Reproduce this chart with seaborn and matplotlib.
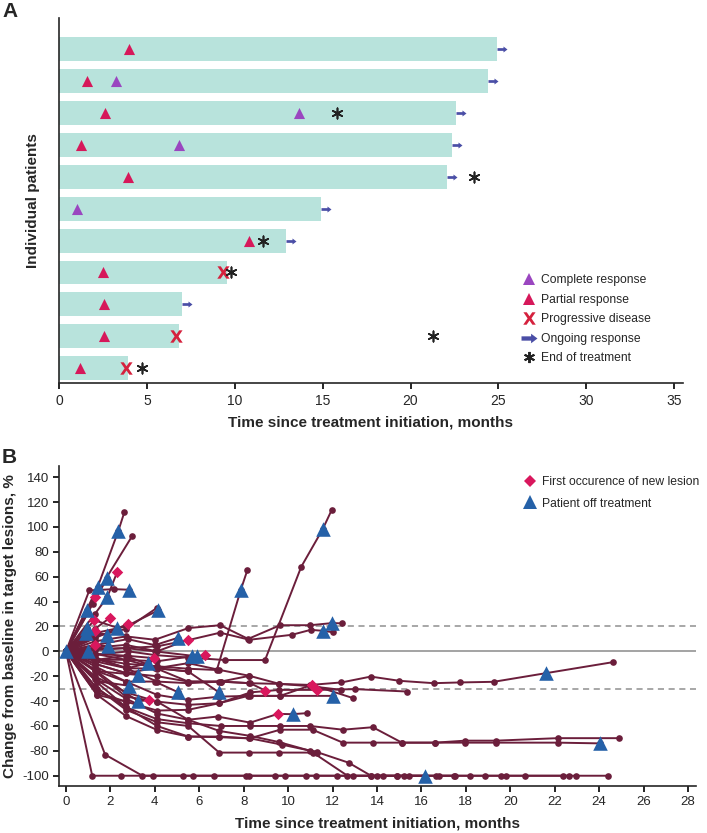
import pandas as pd
import matplotlib
matplotlib.use('Agg')
import matplotlib.pyplot as plt
from matplotlib.lines import Line2D
from matplotlib.path import Path
import seaborn as sns

# Panel A - swimmer plot, one row per patient, top row first
rows = list(range(11))
months_on_study = [24.9, 24.4, 22.6, 22.35, 22.1, 14.9, 12.9, 9.55, 7.0, 6.85, 3.95]
ongoing = [True, True, True, True, True, True, True, False, True, False, False]
partial_resp = [4.0, 1.6, 2.6, 1.25, 3.9, None, 10.8, 2.5, 2.55, 2.55, 1.2]
complete_resp = [None, 3.25, 13.65, 6.8, None, 1.0, None, None, None, None, None]
progression = [None, None, None, None, None, None, None, 9.35, None, 6.65, 3.8]
end_tx_row = [2, 4, 6, 7, 9, 10]
end_tx_month = [15.8, 23.6, 11.6, 9.8, 21.25, 4.7]

# Panel B - spider plot, one list per patient
visit_month = [
    [0, 1.0, 2.36, 2.63],
    [0, 1.3, 2.99],
    [0, 1.2, 1.86],
    [0, 1.05, 2.18, 2.84],
    [0, 1.43],
    [0, 1.3, 1.86, 2.31],
    [0, 0.93],
    [0, 1.4, 2.7, 4.16],
    [0, 1.3, 2.7, 4.1],
    [0, 1.3, 1.98],
    [0, 1.28, 2.3],
    [0, 1.3, 2.78],
    [0, 0.93],
    [0, 0.89],
    [0, 1.3, 1.83],
    [0, 1.3, 1.9],
    [0, 1.0],
    [0],
    [0, 1.3, 2.7, 4.0, 5.51, 6.94, 8.2, 9.64, 11.0, 11.97, 12.42],
    [0, 1.3, 2.78, 4.0, 5.06],
    [0, 1.3, 2.7, 4.1, 5.5],
    [0, 1.3, 2.7, 4.1, 5.5, 6.94, 8.26, 10.17, 11.02, 11.55, 12.01],
    [0, 1.3, 2.7, 4.1, 5.5, 6.79, 7.87, 8.17],
    [0, 1.3, 2.8, 4.0, 5.5, 7.16, 8.96, 10.59, 11.55, 11.97],
    [0, 1.3, 2.78, 3.98],
    [0, 1.4, 2.7, 4.1, 5.66],
    [0, 1.3, 2.7, 4.0, 5.89, 6.26],
    [0, 1.3, 2.78, 3.7],
    [0, 1.4, 3.26],
    [0, 1.4, 2.84],
    [0, 1.3, 2.7, 3.26, 3.74],
    [0, 1.4, 2.7, 4.0, 5.06],
    [0, 1.3, 2.7, 4.0, 5.5, 6.89],
    [0, 1.3, 2.7, 4.1, 5.5, 6.97, 8.26, 9.61, 11.0, 12.4, 13.72, 15.01, 16.55, 17.75, 19.25, 21.62, 24.62],
    [0, 1.3, 2.7, 4.1, 5.5, 6.97, 8.29, 8.96],
    [0, 1.3, 2.7, 4.1, 5.5, 6.9, 8.3, 9.64, 11.07, 12.94],
    [0, 1.3, 2.7, 4.1, 5.5, 6.9, 8.3, 9.6, 11.32, 13.02, 15.35],
    [0, 1.4, 2.7, 4.1, 5.5, 6.9, 8.2, 9.64, 12.04],
    [0, 1.3, 2.7, 4.1, 5.5, 6.82, 8.29, 9.54, 10.21, 10.84],
    [0, 1.4, 2.7, 4.1, 5.5, 6.97, 8.3, 9.64, 10.99, 12.46, 13.81, 15.12, 16.62, 17.97, 19.37, 22.13, 24.88],
    [0, 1.4, 2.7, 4.1, 5.5, 6.9, 8.26, 9.64, 11.1, 12.46, 13.81, 15.12, 16.62, 17.97, 19.37, 22.13, 24.05],
    [0, 1.3, 2.7, 4.1, 5.5, 6.9, 8.26, 9.6, 11.11, 11.3],
    [0, 1.4, 2.7, 4.1, 5.5, 6.9, 8.3, 9.71, 11.3, 12.72, 13.73, 14.9, 16.17],
    [0, 1.18, 2.49, 3.9, 5.26, 6.68, 8.1, 9.43, 10.81, 12.22, 13.99, 15.23, 16.65, 17.48, 18.87, 19.82, 22.36, 22.96, 24.38],
    [0, 1.76, 3.44, 5.7, 8.26, 9.86, 11.26, 12.91, 14.29, 15.46, 16.8, 18.2, 19.58, 20.65, 22.63],
    [0, 1.3, 2.7, 4.1, 5.5, 6.9, 8.3, 9.6, 11.0, 12.67, 13.73, 14.9, 17.52],
    [0, 1.3, 2.7, 4.1, 5.5, 6.9, 8.26, 9.61, 11.0, 12.4],
    [0, 1.3, 2.7, 4.1, 5.5, 6.9, 8.26],
    [0, 1.4, 2.7],
    [0, 1.3, 2.7, 4.1, 5.5],
]
pct_change = [
    [0, 31, 97, 112],
    [0, 44, 93],
    [0, 38, 59],
    [0, 49, 50, 49.5],
    [0, 51.6],
    [0, 30, 43.6, 64],
    [0, 33],
    [0, 15, 20, 33],
    [0, 12, 18, 35],
    [0, 18, 27],
    [0, 25, 19],
    [0, 10.6, 22],
    [0, 18.7],
    [0, 14.6],
    [0, 16, 13],
    [0, 5.2, 4],
    [0, 0],
    [0],
    [0, 8, 12, 9.3, 18.7, 21, 10, 21, 21, 22.7, 22.5],
    [0, 5, 9.8, 5, 11],
    [0, 3, 5.2, 0, 9.3],
    [0, 2, 2.6, 4, 9, 15, 9.3, 13.3, 17.3, 16.5, 15.4],
    [0, -6, -10, -12, -14, -15, 49.5, 65.6],
    [0, -3, 0, -3, -5, -7, -7, 68, 98, 114],
    [0, -2, -3.6, -5.5],
    [0, -6.8, -6.8, -8, -4],
    [0, 1, 2.6, 0, -4, -3],
    [0, -6, -13.5, -9.5],
    [0, -16, -19],
    [0, -24, -27.7],
    [0, -15, -33.6, -40, -39.3],
    [0, -16, -24.3, -24.3, -33],
    [0, -10, -17.5, -13.5, -16.2, -33],
    [0, -10, -17.5, -20, -24.3, -24.3, -19.7, -26.2, -27, -25, -20.3, -23.7, -25.6, -25, -24.5, -17.5, -8.7],
    [0, -8, -13.5, -24.3, -25.6, -24.3, -25.6, -31.5],
    [0, -12, -24.3, -35, -39, -36.4, -35.8, -35.8, -27, -37.7],
    [0, -16, -36.4, -40.4, -43, -41.7, -33, -31, -31, -30.4, -32.3],
    [0, -33, -40.4, -47.6, -47, -41.7, -35.8, -35.8, -35.8],
    [0, -20, -33, -40.4, -55, -52.4, -57.3, -50.3, -50.5, -49.7],
    [0, -25, -44.9, -54.5, -57.8, -60, -60, -60, -60, -63, -61, -73.4, -73.4, -71.8, -71.8, -69.8, -69.8],
    [0, -35, -52, -63.2, -68.5, -69, -70, -63, -63, -73.4, -73.4, -73.4, -73.4, -73.4, -73.4, -73.4, -74],
    [0, -28, -47, -57, -60, -81.4, -81.4, -81.4, -81.4, -81.4],
    [0, -30, -45, -60, -68.5, -68.5, -70, -75, -81, -89.5, -100, -100, -100],
    [0, -100, -100, -100, -100, -100, -100, -100, -100, -100, -100, -100, -100, -100, -100, -100, -100, -100, -100],
    [0, -83, -100, -100, -100, -100, -100, -100, -100, -100, -100, -100, -100, -100, -100],
    [0, -22, -38, -50, -55, -64, -68, -73, -80, -100, -100, -100, -100],
    [0, -5, -13.5, -14, -24.3, -24.3, -25.6, -26.2, -28, -31],
    [0, -7, -3.6, -13.5, -9.5, -14.9, -19.7],
    [0, -35, -40.4],
    [0, -2, -6.8, -13.5, -16.2],
]
# (patient, visit) pairs
off_treatment = [(0, 2), (2, 2), (3, 3), (4, 1), (5, 2), (6, 1), (7, 3), (10, 2), (12, 1), (13, 1),
                 (14, 2), (15, 2), (16, 1), (17, 0), (18, 9), (19, 4), (21, 9), (22, 6), (23, 8),
                 (25, 4), (26, 4), (27, 3), (28, 2), (29, 2), (30, 3), (31, 4), (32, 5), (33, 15),
                 (37, 8), (38, 8), (40, 16), (42, 12)]
new_lesion = [(1, 1), (5, 3), (9, 2), (10, 1), (11, 2), (14, 1), (15, 1), (20, 4), (24, 3),
              (26, 5), (30, 4), (34, 7), (35, 8), (36, 8), (38, 7)]

bar_teal = '#b8e3dc'
pr_col = '#d6185a'
cr_col = '#9a46c0'
pd_col = '#d5213d'
arrow_col = '#4a4ea6'
line_col = '#6b1e3b'
blue = '#2561a8'
pink = '#d9175d'

sns.set_style('ticks')
plt.rcParams['font.family'] = ['Liberation Sans', 'DejaVu Sans']
plt.rcParams['axes.unicode_minus'] = False
plt.rcParams['axes.linewidth'] = 1.2

fig = plt.figure(figsize=(7.07, 8.33), dpi=100)
ax_a = fig.add_axes([0.0835, 0.540, 0.8825, 0.4385])
ax_b = fig.add_axes([0.0839, 0.0568, 0.9003, 0.3838])

# arrow markers: one starts at the point, one centred for the legend
codes = [Path.MOVETO] + [Path.LINETO] * 6 + [Path.CLOSEPOLY]
arrow_start = Path([(0, -0.27), (1.2, -0.27), (1.2, -0.6), (2, 0), (1.2, 0.6), (1.2, 0.27), (0, 0.27), (0, -0.27)], codes)
arrow_mid = Path([(-1, -0.27), (0.2, -0.27), (0.2, -0.6), (1, 0), (0.2, 0.6), (0.2, 0.27), (-1, 0.27), (-1, -0.27)], codes)
asterisk = (6, 2, 0)
x_mark = r'$\mathbf{X}$'

# ---- Panel A
swim = pd.DataFrame({'row': rows, 'months': months_on_study, 'ongoing': ongoing,
                     'pr': partial_resp, 'cr': complete_resp, 'pd': progression})
sns.barplot(data=swim, x='months', y='row', orient='h', color=bar_teal, saturation=1,
            width=0.75, errorbar=None, linewidth=0, ax=ax_a)

d = swim.dropna(subset=['pr'])
sns.scatterplot(x=d['pr'], y=d['row'], marker='^', s=64, color=pr_col, linewidth=0, zorder=3, ax=ax_a)
d = swim.dropna(subset=['cr'])
sns.scatterplot(x=d['cr'], y=d['row'], marker='^', s=64, color=cr_col, linewidth=0, zorder=3, ax=ax_a)
d = swim.dropna(subset=['pd'])
sns.scatterplot(x=d['pd'], y=d['row'], marker=x_mark, s=80, color=pd_col, linewidth=0, zorder=3, ax=ax_a)
d = swim[swim['ongoing']]
sns.scatterplot(x=d['months'], y=d['row'], marker=arrow_start, s=14.4 ** 2, color=arrow_col,
                linewidth=0, zorder=3, ax=ax_a)
sns.scatterplot(x=end_tx_month, y=end_tx_row, marker=asterisk, s=56, color='#222222',
                linewidth=1.2, zorder=3, ax=ax_a)

ax_a.set_xlim(0, 35.5)
ax_a.set_ylim(10.47, -0.98)
ax_a.set_xticks(range(0, 36, 5))
ax_a.set_yticks([])
ax_a.tick_params(axis='x', labelsize=10, length=4, width=1.2, color='black')
ax_a.set_xlabel('Time since treatment initiation, months', fontsize=11, weight='bold', labelpad=6)
ax_a.set_ylabel('Individual patients', fontsize=11, weight='bold', labelpad=14)
sns.despine(ax=ax_a)

handles_a = [
    Line2D([], [], ls='none', marker='^', ms=9, color=cr_col, mew=0),
    Line2D([], [], ls='none', marker='^', ms=9, color=pr_col, mew=0),
    Line2D([], [], ls='none', marker=x_mark, ms=9, color=pd_col, mew=0),
    Line2D([], [], ls='none', marker=arrow_mid, ms=11.5, color=arrow_col, mew=0),
    Line2D([], [], ls='none', marker=asterisk, ms=8, color='#222222', mew=1.4),
]
ax_a.legend(handles_a, ['Complete response', 'Partial response', 'Progressive disease',
                        'Ongoing response', 'End of treatment'],
            loc='upper left', bbox_to_anchor=(0.744, 0.298), frameon=False, fontsize=8.7,
            handlelength=1.0, handletextpad=0.5, labelspacing=0.62, borderpad=0, borderaxespad=0)

# ---- Panel B
recs = []
for pid, (tt, yy) in enumerate(zip(visit_month, pct_change)):
    for t, y in zip(tt, yy):
        recs.append((pid, t, y))
lesions = pd.DataFrame(recs, columns=['patient', 'month', 'change'])

ax_b.axhline(0, color='#8a8a8a', lw=1.1, zorder=0)
for ref in (20, -30):
    ax_b.axhline(ref, color='#8f8f8f', lw=1.1, dashes=(4, 3), zorder=0)

sns.lineplot(data=lesions, x='month', y='change', units='patient', estimator=None,
             color=line_col, lw=1.4, marker='o', markersize=4.8, markeredgewidth=0,
             sort=False, ax=ax_b)

off = pd.DataFrame([(visit_month[p][i], pct_change[p][i]) for p, i in off_treatment],
                   columns=['month', 'change'])
new = pd.DataFrame([(visit_month[p][i], pct_change[p][i]) for p, i in new_lesion],
                   columns=['month', 'change'])
sns.scatterplot(data=new, x='month', y='change', marker='D', s=34, color=pink, linewidth=0,
                zorder=4, ax=ax_b)
sns.scatterplot(data=off, x='month', y='change', marker='^', s=110, color=blue, linewidth=0,
                zorder=5, ax=ax_b)

ax_b.set_xlim(-0.3, 28.35)
ax_b.set_ylim(-108, 149)
ax_b.set_xticks(range(0, 29, 2))
ax_b.set_yticks(range(-100, 141, 20))
ax_b.tick_params(labelsize=9.5, length=4, width=1.2, color='black')
ax_b.set_xlabel('Time since treatment initiation, months', fontsize=11, weight='bold', labelpad=6)
ax_b.set_ylabel('Change from baseline in target lesions, %', fontsize=11, weight='bold', labelpad=4)
sns.despine(ax=ax_b)

handles_b = [
    Line2D([], [], ls='none', marker='D', ms=6.5, color=pink, mew=0),
    Line2D([], [], ls='none', marker='^', ms=9.5, color=blue, mew=0),
]
ax_b.legend(handles_b, ['First occurence of new lesion', 'Patient off treatment'],
            loc='upper left', bbox_to_anchor=(0.73, 0.968), frameon=False, fontsize=8.7,
            handlelength=1.0, handletextpad=0.5, labelspacing=0.78, borderpad=0, borderaxespad=0)

fig.text(0.003, 0.997, 'A', fontsize=15, weight='bold', va='top')
fig.text(0.003, 0.462, 'B', fontsize=15, weight='bold', va='top')

fig.savefig('out.png', dpi=100)
